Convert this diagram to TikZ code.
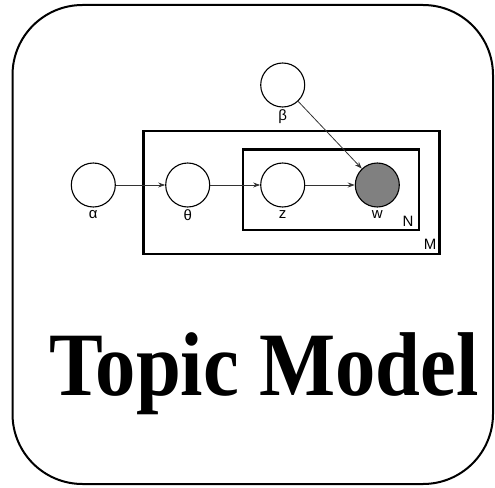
\documentclass[tikz,border=0pt]{standalone}
\usepackage{fontspec}
\setmainfont{Liberation Serif}
\newfontfamily\labelfont{Liberation Sans}
\usetikzlibrary{arrows.meta}
\begin{document}
\begin{tikzpicture}[x=1pt,y=-1pt,
  var/.style={circle, draw, line width=1.1pt, minimum size=44pt, inner sep=0pt},
  obs/.style={var, fill=black!50},
  lbl/.style={font=\labelfont\fontsize{15}{16}\selectfont, inner sep=0pt},
  plate/.style={draw, line width=2.2pt},
  edge/.style={line width=0.8pt, draw=black!80, -{Stealth[length=7pt,width=5pt]}}]
  \useasboundingbox (0,0) rectangle (495,487);
  % rounded card
  \draw[line width=2pt, rounded corners=70pt] (12.5,5) rectangle (493,484);
  % plates
  \draw[plate] (143.5,131) rectangle (439.5,254);
  \draw[plate] (243,149.5) rectangle (419,230);
  % variables
  \node[var] (alpha) at (93.3,185) {};
  \node[var] (theta) at (187.7,185) {};
  \node[var] (z) at (282.7,185) {};
  \node[obs] (w) at (377.3,185) {};
  \node[var] (beta) at (282.7,85) {};
  % labels
  \node[lbl] (la) at (93.3,215) {α};
  \node[lbl] (lt) at (187.7,215) {θ};
  \node[lbl] (lz) at (282.7,215) {z};
  \node[lbl] (lw) at (377.3,215) {w};
  \node[lbl] (lb) at (282.7,117) {β};
  \node[lbl] (ln) at (408,221) {N};
  \node[lbl] (lm) at (430,244) {M};
  % dependencies
  \draw[edge] (alpha) -- (theta);
  \draw[edge] (theta) -- (z);
  \draw[edge] (z) -- (w);
  \draw[edge] (beta) -- (w);
  % title
  \node[anchor=base, xscale=0.89, inner sep=0pt] (title) at (264,395)
    {\fontsize{90.6}{100}\selectfont\bfseries Topic Model};
\end{tikzpicture}
\end{document}
